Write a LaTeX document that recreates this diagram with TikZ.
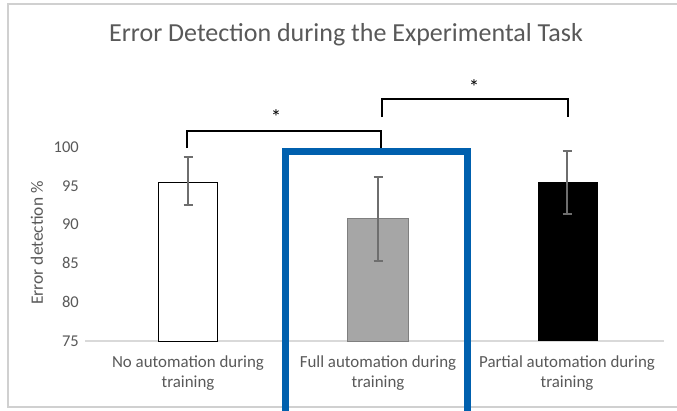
\documentclass[tikz,border=0pt]{standalone}
\usepackage{fontspec}
\setmainfont{Carlito}
\definecolor{txtgray}{HTML}{595959}
\definecolor{axisgray}{HTML}{D9D9D9}
\definecolor{framegray}{HTML}{D0D0D0}
\definecolor{barfill}{HTML}{A6A6A6}
\definecolor{barline}{HTML}{7F7F7F}
\definecolor{errgray}{HTML}{6E6E6E}
\definecolor{hiblue}{HTML}{0060AE}
\begin{document}
\begin{tikzpicture}[x=1pt,y=-1pt,
  ticklbl/.style={text=txtgray,font=\fontsize{16.5}{19}\selectfont,inner sep=0pt,anchor=east},
  catlbl/.style={text=txtgray,font=\fontsize{16.9}{20}\selectfont,inner sep=0pt,align=center},
  errbar/.style={draw=errgray,line width=1.1pt},
  bracket/.style={draw=black,line width=2.6pt,line cap=butt,line join=miter},
  star/.style={font=\fontsize{21}{21}\selectfont,inner sep=0pt}]
\useasboundingbox (0,0) rectangle (677,410);
\fill[white] (0,0) rectangle (677,410);
% chart frame
\draw[framegray,line width=1.2pt] (8,4) rectangle (690,407);
% title
\node[text=txtgray,font=\fontsize{26}{30}\selectfont,inner sep=0pt] (title) at (346,35)
  {Error Detection during the Experimental Task};
% value axis
\node[text=txtgray,font=\fontsize{17.4}{20}\selectfont,inner sep=0pt,rotate=90] (ytitle) at (37,243)
  {Error detection \%};
\foreach \v/\yy in {100/147,95/186.2,90/224.6,85/263.4,80/302.2,75/341}
  \node[ticklbl] (tick\v) at (79,\yy) {\v};
% category axis line
\coordinate (axL) at (85,341);
\coordinate (axR) at (664,341);
\draw[axisgray,line width=1.5pt] (axL) -- (axR);
% bars
\draw[black,line width=0.8pt,fill=white] (158,341) rectangle (217,182);
\draw[barline,line width=0.8pt,fill=barfill] (347,341) rectangle (408,218);
\fill[black] (538,341) rectangle (598,182);
% error bars
\foreach \n/\xx/\ytop/\ybot in {a/188/157/205,b/378/177/261,c/567/151/214}{
  \coordinate (e\n t) at (\xx,\ytop);
  \coordinate (e\n b) at (\xx,\ybot);
  \draw[errbar] (e\n t) -- (e\n b);
  \draw[errbar] ([xshift=-4.5pt]e\n t) -- ([xshift=4.5pt]e\n t);
  \draw[errbar] ([xshift=-4.5pt]e\n b) -- ([xshift=4.5pt]e\n b);
}
% category labels
\node[catlbl] (cat1) at (188,373) {No automation during\\training};
\node[catlbl] (cat2) at (378,373) {Full automation during\\training};
\node[catlbl] (cat3) at (567,373) {Partial automation during\\training};
% significance brackets
\coordinate (b1a) at (187,148);
\coordinate (b1b) at (381,148);
\draw[bracket] (b1a) -- (187,131) -- (381,131) -- (b1b);
\node[star] (s1) at (276,117) {*};
\coordinate (b2a) at (382,117);
\coordinate (b2b) at (568,117);
\draw[bracket] (b2a) -- (382,99) -- (568,99) -- (b2b);
\node[star] (s2) at (474,87) {*};
% highlight box around the full automation group
\draw[hiblue,line width=7pt,line join=miter] (285.5,412) -- (285.5,151) -- (467,151) -- (467,412);
\end{tikzpicture}
\end{document}
